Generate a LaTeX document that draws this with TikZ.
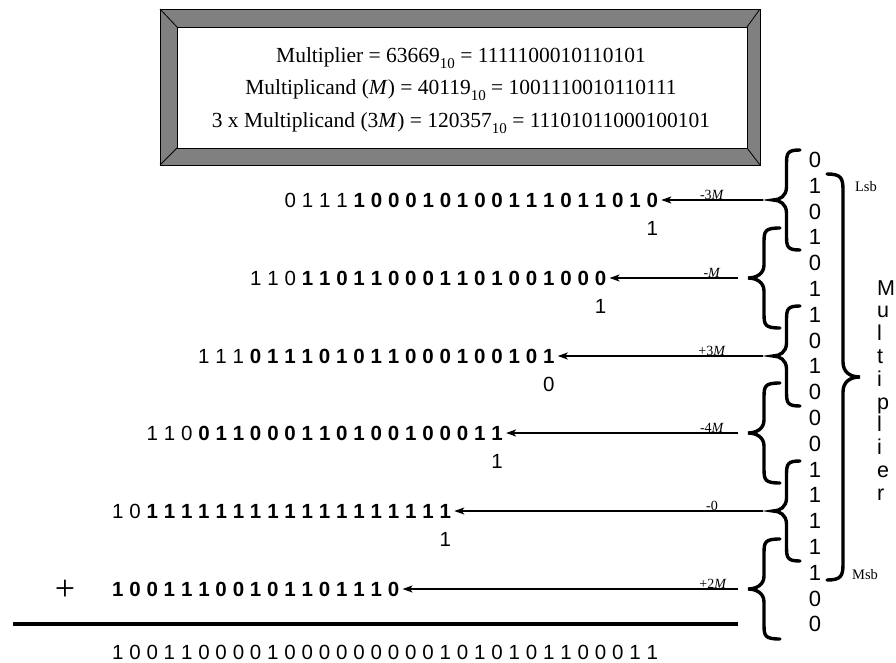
\documentclass[tikz,border=0pt]{standalone}
\usepackage{fontspec}
\setmainfont{Liberation Serif}
\newfontfamily\digitfont{Liberation Sans}
\usetikzlibrary{arrows.meta}
\definecolor{bevelgray}{RGB}{128,128,128}

% fixed pitch for the digits of every partial-product row
\newlength\bitw
\setlength\bitw{17.25pt}
\def\bitloop#1{\ifx#1\relax\else\makebox[\bitw][c]{#1}\expandafter\bitloop\fi}
% #1: sign-extension digits (regular), #2: partial product digits (bold)
\newcommand\bitrow[2]{\bitloop#1\relax{\bfseries\bitloop#2\relax}}
\newcommand\tensub{\raisebox{-6pt}{\fontsize{15}{15}\selectfont 10}}

\tikzset{
  rowbits/.style={font=\digitfont\fontsize{20.5}{21}\selectfont, inner sep=0pt, anchor=west},
  carry/.style={font=\digitfont\fontsize{20.5}{21}\selectfont, inner sep=0pt},
  colbit/.style={font=\digitfont\fontsize{22}{23}\selectfont, inner sep=0pt},
  vlet/.style={font=\digitfont\fontsize{21.5}{22}\selectfont, inner sep=0pt, anchor=base west},
  hdr/.style={font=\fontsize{21.5}{22}\selectfont, inner sep=0pt, anchor=base},
  oplabel/.style={font=\fontsize{14}{14}\selectfont, inner sep=0pt, anchor=base},
  endlabel/.style={font=\fontsize{14.5}{15}\selectfont, inner sep=0pt},
  feed/.style={line width=1.3pt, -{Stealth[length=10pt,width=7pt,inset=2.5pt]}},
  bracestroke/.style={line width=3.4pt, line cap=round},
  % left-pointing brace, tip at the pic origin, #1 = total width
  lbrace/.pic={
    \draw[bracestroke] (#1,-50) .. controls ({#1/2+1},-50) and ({#1/2},-47) .. ({#1/2},-36)
      -- ({#1/2},-13) .. controls ({#1/2},-4) and ({#1/4},0) .. (0,0)
      .. controls ({#1/4},0) and ({#1/2},4) .. ({#1/2},13)
      -- ({#1/2},36) .. controls ({#1/2},47) and ({#1/2+1},50) .. (#1,50);
  },
}

\begin{document}
\begin{tikzpicture}[x=1pt,y=-1pt]
\useasboundingbox (0,0) rectangle (896,663);

% bevelled title frame
\fill[bevelgray] (160,9) rectangle (760,165);
\draw[line width=0.8pt] (160,9) rectangle (760,165);
\fill[white] (177,27) rectangle (747,148);
\draw[line width=0.8pt] (177,27) rectangle (747,148);
\draw[line width=0.8pt] (160,9) -- (177,27) (760,9) -- (747,27)
                        (160,165) -- (177,148) (760,165) -- (747,148);
\node[hdr] (h1) at (461,63) {Multiplier = 63669\tensub{} = 1111100010110101};
\node[hdr] (h2) at (461,95) {Multiplicand (\textit{M}) = 40119\tensub{} = 1001110010110111};
\node[hdr] (h3) at (461,128) {3 x Multiplicand (3\textit{M}) = 120357\tensub{} = 11101011000100101};

% multiplier bits, Lsb at the top (with the appended 0 and sign extension)
\foreach \b [count=\i from 0] in {0,1,0,1,0,1,1,0,1,0,0,0,1,1,1,1,1,0,0}
  \node[colbit] (b\i) at (815,{160+25.8*\i}) {\b};

% big brace spanning the multiplier
\draw[bracestroke] (827,174) .. controls (841,174) and (843,178) .. (843,190)
  -- (843,362) .. controls (843,372) and (850,377) .. (860,377)
  .. controls (850,377) and (843,382) .. (843,392)
  -- (843,564) .. controls (843,576) and (841,580) .. (827,580);
\node[endlabel] (lsb) at (866,187) {Lsb};
\node[endlabel] (msb) at (865,575) {Msb};
\foreach \ch [count=\k from 0] in {M,u,l,t,i,p,l,i,e,r}
  \node[vlet] (v\k) at (877,{295+22.8*\k}) {\ch};

% recoding group braces
\pic at (773,200) {lbrace=27};
\pic at (748,278) {lbrace=32};
\pic at (773,356) {lbrace=27};
\pic at (748,433) {lbrace=32};
\pic at (773,511) {lbrace=27};
\pic at (748,589) {lbrace=32};

% partial products
\node[rowbits] (r1) at (281.4,200) {\bitrow{0111}{100010100111011010}};
\node[rowbits] (r2) at (246.9,278) {\bitrow{110}{110110001101001000}};
\node[rowbits] (r3) at (195.1,356) {\bitrow{111}{011101011000100101}};
\node[rowbits] (r4) at (143.4,433) {\bitrow{110}{011000110100100011}};
\node[rowbits] (r5) at (108.9,511) {\bitrow{10}{111111111111111111}};
\node[rowbits] (r6) at (108.9,589) {\bitrow{}{10011100101101110}};
\node[rowbits] (res) at (108.9,652) {\bitrow{10011000010000000001010101100011}{}};

% carry-in digits
\node[carry] (c1) at (652.25,228) {1};
\node[carry] (c2) at (600.5,306) {1};
\node[carry] (c3) at (548.75,384) {0};
\node[carry] (c4) at (497,461) {1};
\node[carry] (c5) at (445.25,539) {1};

% selection arrows
\coordinate (s1) at (763,200);
\coordinate (s2) at (738,278);
\coordinate (s3) at (763,356);
\coordinate (s4) at (738,433);
\coordinate (s5) at (763,511);
\coordinate (s6) at (738,589);
\draw[feed] (s1) -- (r1.east);
\draw[feed] (s2) -- (r2.east);
\draw[feed] (s3) -- (r3.east);
\draw[feed] (s4) -- (r4.east);
\draw[feed] (s5) -- (r5.east);
\draw[feed] (s6) -- (r6.east);
\node[oplabel] (l1) at (712,199) {-3\textit{M}};
\node[oplabel] (l2) at (712,277) {-\textit{M}};
\node[oplabel] (l3) at (712,355) {+3\textit{M}};
\node[oplabel] (l4) at (712,432) {-4\textit{M}};
\node[oplabel] (l5) at (712,510) {-0};
\node[oplabel] (l6) at (713,588) {+2\textit{M}};

% sum
\node[font=\fontsize{36}{36}\selectfont, inner sep=0pt] (plus) at (65,590) {+};
\draw[line width=3.5pt] (13,624) -- (738,624);
\end{tikzpicture}
\end{document}
